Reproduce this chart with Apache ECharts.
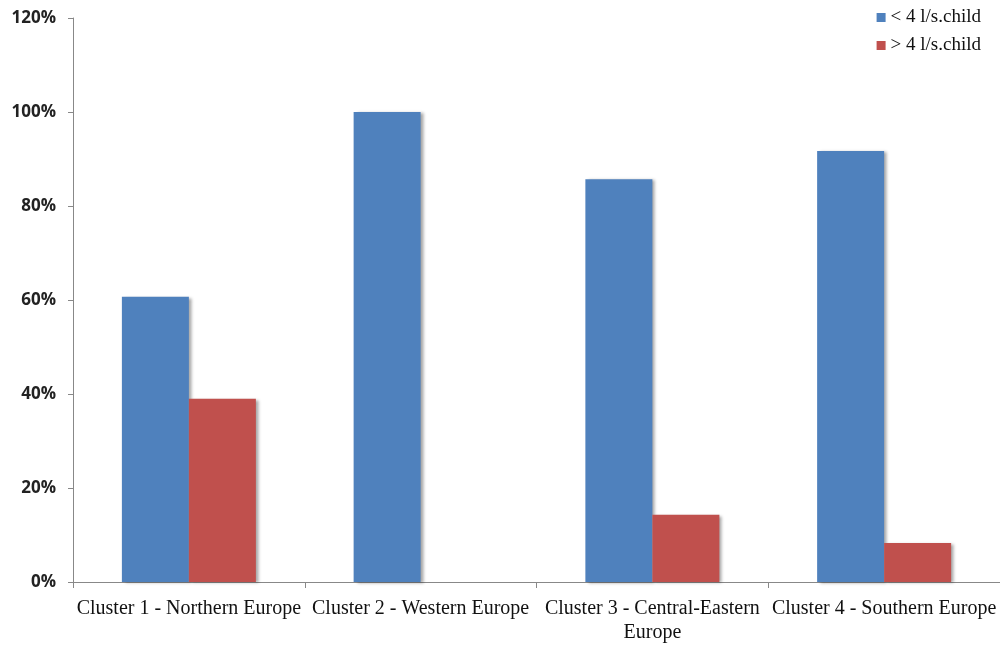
<!DOCTYPE html>
<html>
<head>
<meta charset="utf-8">
<script src="https://cdn.jsdelivr.net/npm/echarts@6/dist/echarts.min.js"></script>
<style>html,body{margin:0;padding:0;background:#fff;}#c{width:1000px;height:645px;}</style>
</head>
<body>
<div id="c"></div>
<script>
const categories = ['Cluster 1 - Northern Europe', 'Cluster 2 - Western Europe', 'Cluster 3 - Central-Eastern\nEurope', 'Cluster 4 - Southern Europe'];
const seriesNames = ['< 4 l/s.child', '> 4 l/s.child'];
const below4 = [60.7, 100, 85.7, 91.7];
const above4 = [39.0, 0, 14.3, 8.3];
const yTicks = [0, 20, 40, 60, 80, 100, 120];

const chart = echarts.init(document.getElementById('c'), null, {renderer: 'canvas'});
const barStyle = (color) => ({
  color: color,
  borderWidth: 0,
  shadowColor: 'rgba(0,0,0,0.35)',
  shadowBlur: 3,
  shadowOffsetX: 3,
  shadowOffsetY: 1
});
chart.setOption({
  animation: false,
  backgroundColor: '#fff',
  legend: {
    orient: 'vertical',
    right: 14,
    top: 3,
    itemWidth: 9,
    itemHeight: 9,
    itemGap: 9,
    icon: 'rect',
    textStyle: {fontFamily: 'Liberation Serif', fontSize: 19, color: '#111'},
    data: seriesNames
  },
  grid: {left: 73, top: 18, width: 932, bottom: 58, containLabel: false},
  xAxis: {
    type: 'category',
    data: categories,
    axisLine: {lineStyle: {color: '#888', width: 1}},
    axisTick: {show: true, length: 6, alignWithLabel: false, lineStyle: {color: '#888'}},
    axisLabel: {fontFamily: 'Liberation Serif', fontSize: 20, color: '#111', margin: 15, lineHeight: 24, interval: 0}
  },
  yAxis: {
    type: 'value',
    min: yTicks[0],
    max: yTicks[yTicks.length - 1],
    interval: 20,
    splitLine: {show: false},
    axisLine: {show: true, lineStyle: {color: '#888', width: 1}},
    axisTick: {show: true, length: 5, lineStyle: {color: '#888'}},
    axisLabel: {formatter: v => v + '%', fontFamily: 'Open Sans', fontWeight: 'bold', fontSize: 17, color: '#222', margin: 17}
  },
  series: [
    {name: seriesNames[0], type: 'bar', data: below4, barWidth: 67, barGap: '0%', itemStyle: barStyle('#4F81BD')},
    {name: seriesNames[1], type: 'bar', data: above4, barWidth: 67, barGap: '0%', itemStyle: barStyle('#C0504D')}
  ]
});
</script>
</body>
</html>
